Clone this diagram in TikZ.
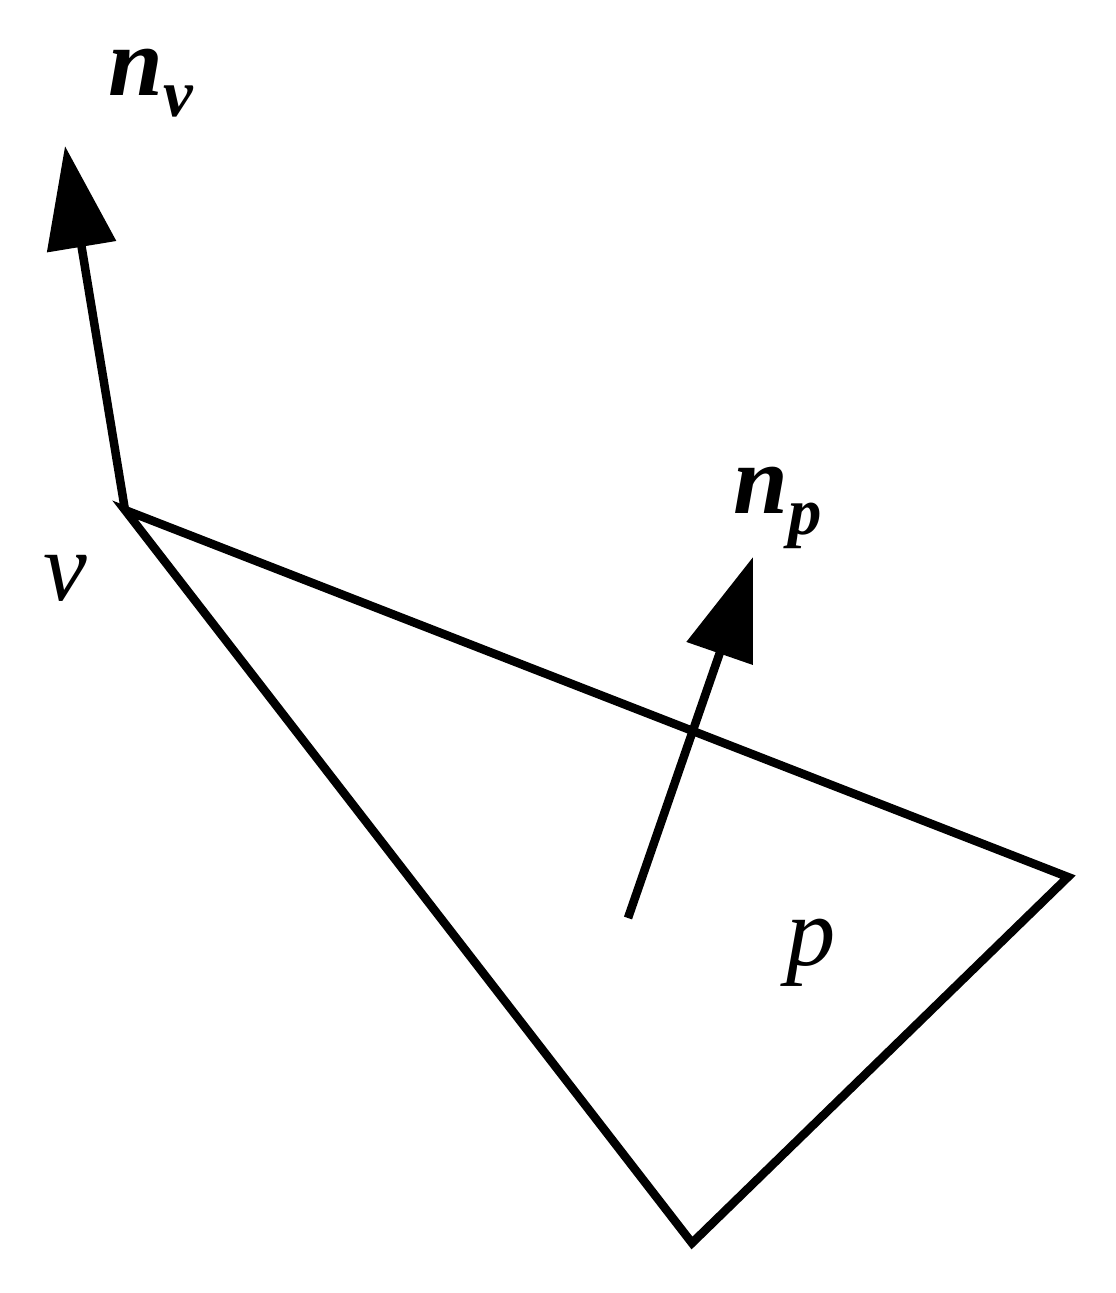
\documentclass[tikz,border=0pt]{standalone}
\usepackage{fontspec}
\setmainfont{Liberation Serif}
\usetikzlibrary{arrows.meta}
\newcommand{\vecsub}[2]{{\bfseries\itshape #1}\raisebox{-0.22em}{\fontsize{19}{22}\selectfont\bfseries\itshape #2}}
\begin{document}
\begin{tikzpicture}[x=0.01cm,y=-0.01cm,
  edge/.style={line width=0.085cm,line join=miter},
  vec/.style={line width=0.085cm,-{Triangle[length=1.02cm,width=0.68cm]}},
  lbl/.style={inner sep=0pt,anchor=base west,font=\fontsize{28}{34}\selectfont}]
\useasboundingbox (0,0) rectangle (1116,1293);
\coordinate (v) at (125,510);
\coordinate (r) at (1068,877);
\coordinate (b) at (692,1243);
\coordinate (nvtip) at (65,146);
\coordinate (nptail) at (628,918);
\coordinate (nptip) at (753,557);
\draw[edge] (v) -- (r) -- (b) -- cycle;
\draw[vec] (v) -- (nvtip);
\draw[vec] (nptail) -- (nptip);
\node[lbl] (lnv) at (108,95) {\vecsub{n}{v}};
\node[lbl] (lv) at (43,600) {\itshape v};
\node[lbl] (lnp) at (733,513) {\vecsub{n}{p}};
\node[lbl] (lp) at (786,965) {\itshape p};
\end{tikzpicture}
\end{document}
